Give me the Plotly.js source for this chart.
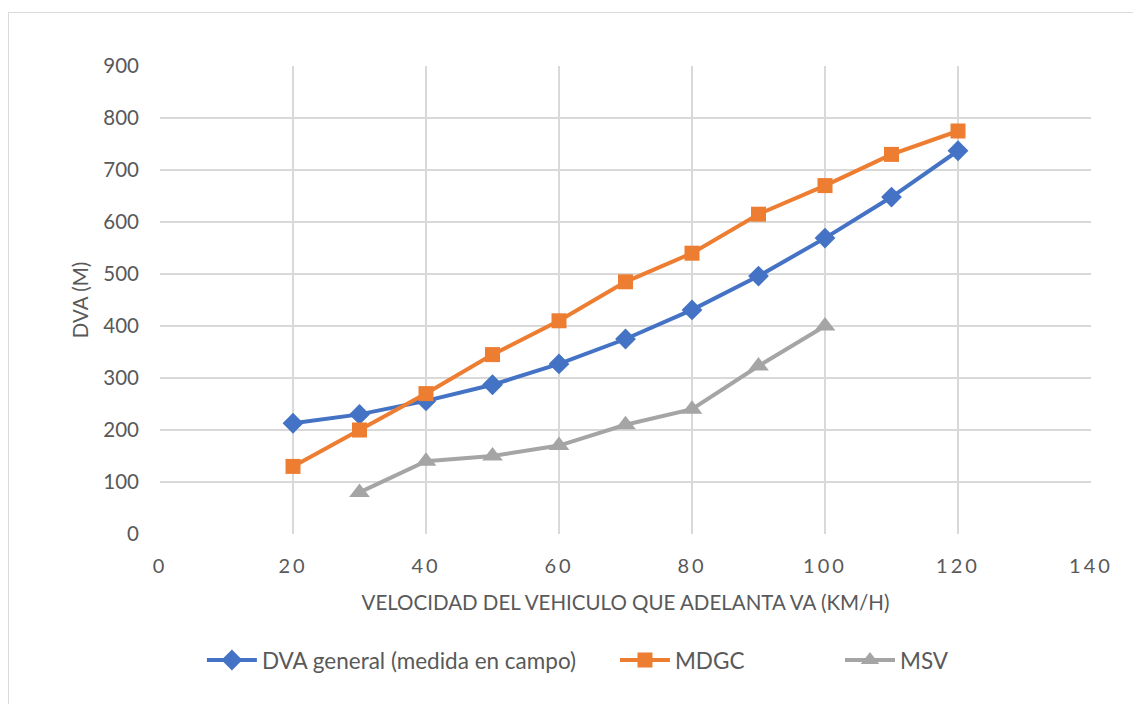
<!DOCTYPE html>
<html>
<head>
<meta charset="utf-8">
<script src="https://cdn.plot.ly/plotly-3.0.1.min.js"></script>
<style>
html,body{margin:0;padding:0;background:#fff;overflow:hidden;}
#frame{position:absolute;left:8px;top:12px;width:1200px;height:760px;border:1px solid #d9d9d9;}
#chart{position:absolute;left:0;top:0;width:1133px;height:704px;}
.xtick text{letter-spacing:3px;}
</style>
</head>
<body>
<div id="frame"></div>
<div id="chart"></div>
<script>
var speedDVA = [20, 30, 40, 50, 60, 70, 80, 90, 100, 110, 120];
var dvaGeneral = [213, 230, 256, 287, 327, 375, 431, 496, 569, 648, 737];
var speedMDGC = [20, 30, 40, 50, 60, 70, 80, 90, 100, 110, 120];
var mdgc = [130, 200, 270, 345, 410, 485, 540, 615, 670, 730, 775];
var speedMSV = [30, 40, 50, 60, 70, 80, 90, 100];
var msv = [80, 140, 150, 170, 210, 240, 323, 400];
var seriesNames = ["DVA general (medida en campo)", "MDGC", "MSV"];

var font = "Lato, 'Liberation Sans', sans-serif";
var traces = [
  {x: speedDVA, y: dvaGeneral, name: seriesNames[0], mode: "lines+markers", legend: "legend",
   line: {color: "#4472C4", width: 4}, marker: {symbol: "diamond", size: 16, color: "#4472C4"}},
  {x: speedMDGC, y: mdgc, name: seriesNames[1], mode: "lines+markers", legend: "legend2",
   line: {color: "#ED7D31", width: 4}, marker: {symbol: "square", size: 15, color: "#ED7D31"}},
  {x: speedMSV, y: msv, name: seriesNames[2], mode: "lines+markers", legend: "legend3",
   line: {color: "#A5A5A5", width: 4}, marker: {symbol: "triangle-up", size: 18, color: "#A5A5A5"}}
];

function leg(x) {
  return {
    orientation: "h", x: x, xanchor: "left", y: -0.27, yanchor: "middle",
    font: {size: 22.5, color: "#595959", family: font},
    itemwidth: 50, bgcolor: "rgba(0,0,0,0)"
  };
}

var layout = {
  width: 1133, height: 704,
  margin: {l: 160, r: 42, t: 66, b: 170},
  paper_bgcolor: "rgba(0,0,0,0)",
  plot_bgcolor: "rgba(0,0,0,0)",
  font: {family: font, color: "#595959", size: 20},
  showlegend: true,
  xaxis: {
    range: [0, 140], dtick: 20, tick0: 0,
    showgrid: true, gridcolor: "#d9d9d9", gridwidth: 1.5,
    zeroline: false, showline: false, ticks: "",
    tickfont: {size: 20, color: "#595959"},
    ticklabelstandoff: 18,
    title: {text: "VELOCIDAD DEL VEHICULO QUE ADELANTA VA (KM/H)", font: {size: 20.5, color: "#595959"}, standoff: 19}
  },
  yaxis: {
    range: [0, 900], dtick: 100, tick0: 0,
    showgrid: true, gridcolor: "#d9d9d9", gridwidth: 1.5,
    zeroline: false, showline: false, ticks: "",
    tickfont: {size: 20.5, color: "#595959"},
    ticklabelstandoff: 20,
    title: {text: "DVA (M)", font: {size: 20.5, color: "#595959"}, standoff: 9}
  },
  legend: leg(0.045),
  legend2: leg(0.4887),
  legend3: leg(0.7304)
};

Plotly.newPlot("chart", traces, layout, {displayModeBar: false, staticPlot: true});
</script>
</body>
</html>
